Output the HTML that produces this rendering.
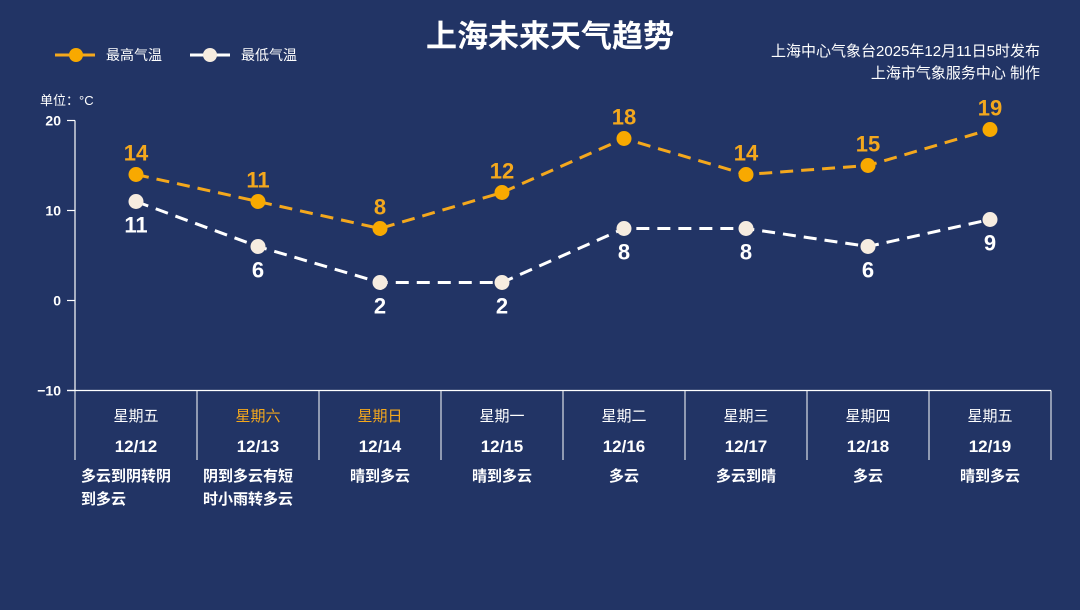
<!DOCTYPE html>
<html><head><meta charset="utf-8">
<style>
body{margin:0;background:#223465;}
svg{display:block;font-family:"Liberation Sans","Noto Sans CJK SC",sans-serif;}
</style></head>
<body>
<svg id="c" width="1080" height="610" viewBox="0 0 1080 610">
<rect width="1080" height="610" fill="#223465"/>
<text x="550" y="47" fill="#fff" font-size="31" font-weight="bold" text-anchor="middle">上海未来天气趋势</text>
<text x="1040" y="56" fill="#fff" font-size="15" text-anchor="end">上海中心气象台2025年12月11日5时发布</text>
<text x="1040" y="78" fill="#fff" font-size="15" text-anchor="end">上海市气象服务中心  制作</text>
<g>
<line x1="55" y1="55" x2="95" y2="55" stroke="#f4a81d" stroke-width="3"/>
<circle cx="76" cy="55" r="7" fill="#f8a900"/>
<text x="106" y="60" fill="#fff" font-size="14">最高气温</text></g>
<g>
<line x1="190" y1="55" x2="230" y2="55" stroke="#fff" stroke-width="3"/>
<circle cx="210" cy="55" r="7" fill="#f6ece0"/>
<text x="241" y="60" fill="#fff" font-size="14">最低气温</text></g>
<text x="40" y="105" fill="#fff" font-size="13">单位：°C</text>
<g id="axes"></g><g id="marks"></g>
</svg>
<script>
const days=["星期五","星期六","星期日","星期一","星期二","星期三","星期四","星期五"];
const dates=["12/12","12/13","12/14","12/15","12/16","12/17","12/18","12/19"];
const weather=[["多云到阴转阴","到多云"],["阴到多云有短","时小雨转多云"],["晴到多云"],["晴到多云"],["多云"],["多云到晴"],["多云"],["晴到多云"]];
const highs=[14,11,8,12,18,14,15,19];
const lows=[11,6,2,2,8,8,6,9];
const yTicks=[20,10,0,-10];
const weekend=[false,true,true,false,false,false,false,false];
const NS="http://www.w3.org/2000/svg";
const X0=75,COL=122,Y0=300.5,PX=9;
const xs=i=>X0+COL*i+COL/2+0;
const ys=v=>Y0-v*PX;
function mk(t,a,p,txt){const e=document.createElementNS(NS,t);for(const k in a)e.setAttribute(k,a[k]);if(txt!==undefined)e.textContent=txt;p.appendChild(e);return e;}
const ax=document.getElementById('axes'),mg=document.getElementById('marks');
let e=mk('line',{x1:X0,y1:ys(20),x2:X0,y2:ys(-10),stroke:'#fff','stroke-width':1.2},ax);


e=mk('line',{x1:67,y1:ys(-10),x2:X0+COL*days.length,y2:ys(-10),stroke:'#fff','stroke-width':1.2},ax);


yTicks.forEach(v=>{
 mk('line',{x1:67,y1:ys(v),x2:X0,y2:ys(v),stroke:'#fff','stroke-width':1.2},ax);
 const t=mk('text',{x:61,y:ys(v)+5,fill:'#fff','font-size':14,'font-weight':'bold','text-anchor':'end'},ax,v<0?'−'+(-v):String(v));
 
 
});
for(let i=0;i<=days.length;i++){
 const l=mk('line',{x1:X0+COL*i,y1:ys(-10),x2:X0+COL*i,y2:460,stroke:'#fff','stroke-width':1},ax);
 
 
}
days.forEach((d,i)=>{
 const cx=xs(i);
 let t=mk('text',{x:cx,y:421,fill:weekend[i]?'#f4a81d':'#fff','font-size':15,'text-anchor':'middle'},ax,d);
 
 
 t=mk('text',{x:cx,y:452,fill:'#fff','font-size':17,'font-weight':'bold','text-anchor':'middle'},ax,dates[i]);
 
 
 weather[i].forEach((w,j)=>{
  const tx=weather[i].length>1?X0+COL*i+6:cx;
  t=mk('text',{x:tx,y:481+j*23,fill:'#fff','font-size':15,'font-weight':'bold','text-anchor':weather[i].length>1?'start':'middle'},ax,w);
  
  
 });
});
function series(vals,color,fill,name,above){
 const p=mk('polyline',{points:vals.map((v,i)=>xs(i)+','+ys(v)).join(' '),fill:'none',stroke:color,'stroke-width':3,'stroke-dasharray':'13 8'},mg);
 
 
 vals.forEach((v,i)=>{
  const c=mk('circle',{cx:xs(i),cy:ys(v),r:7.5,fill:fill},mg);
  
  
  const t=mk('text',{x:xs(i),y:above?ys(v)-14:ys(v)+31,fill:color,'font-size':22,'font-weight':'bold','text-anchor':'middle'},mg,String(v));
  
  
 });
}
series(lows,'#fff','#f6ece0','low-temp',false);
series(highs,'#f4a81d','#f8a900','high-temp',true);
</script>
</body></html>
